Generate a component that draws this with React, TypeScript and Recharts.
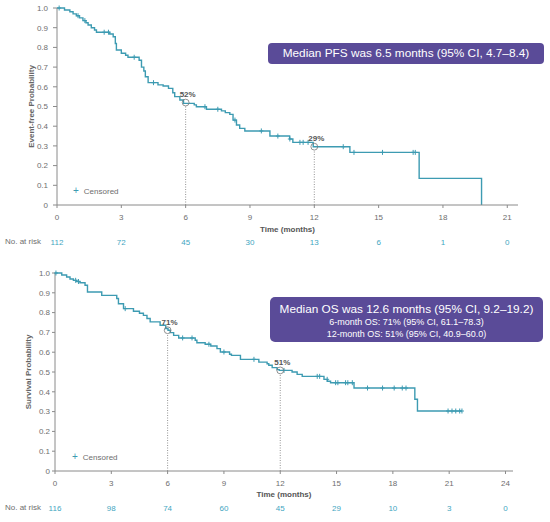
import { ComposedChart, Line, Scatter, XAxis, YAxis, ReferenceLine, ReferenceDot, Label } from 'recharts'

const FONT = '"Liberation Sans", Arial, sans-serif'
const TEAL = '#3d9bb2'
const RISK_TEAL = '#3fa6bf'
const PURPLE = '#5a4b98'
const GREY = '#8a8a8a'
const TEXT_GREY = '#6e6e6e'

const yTicks = [0, 0.1, 0.2, 0.3, 0.4, 0.5, 0.6, 0.7, 0.8, 0.9, 1.0]

// PFS curve (steps)
const pfsTimes = [0, 0.35, 0.6, 0.75, 0.9, 1.05, 1.21, 1.35, 1.45, 1.6, 1.75, 1.84, 2.46, 2.62, 2.72, 2.77, 3.0, 3.2, 3.31, 3.83, 3.94, 4.05, 4.12, 4.25, 4.71, 4.95, 5.2, 5.4, 5.49, 5.73, 5.9, 6.4, 6.5, 6.97, 7.67, 7.85, 8.06, 8.21, 8.37, 8.52, 8.76, 9.93, 10.85, 11.0, 11.95, 13.66, 16.89, 19.8]
const pfsSurv = [1.0, 0.99, 0.981, 0.97, 0.961, 0.95, 0.936, 0.925, 0.914, 0.9, 0.888, 0.877, 0.868, 0.854, 0.82, 0.787, 0.77, 0.76, 0.75, 0.735, 0.7, 0.68, 0.651, 0.621, 0.61, 0.604, 0.592, 0.57, 0.55, 0.533, 0.516, 0.508, 0.499, 0.486, 0.478, 0.469, 0.46, 0.431, 0.406, 0.389, 0.376, 0.35, 0.335, 0.318, 0.296, 0.267, 0.135, 0]
const pfsCensorTimes = [0.1, 0.98, 1.3, 2.2, 2.4, 3.6, 4.5, 6.9, 7.5, 8.3, 9.53, 10.3, 10.86, 11.33, 11.48, 11.71, 13.35, 13.85, 15.18, 16.61, 16.71]
const pfsTicks = [0, 3, 6, 9, 12, 15, 18, 21]
const pfsAtRisk = [112, 72, 45, 30, 13, 6, 1, 0]

// OS curve
const osTimes = [0, 0.36, 0.62, 0.8, 0.98, 1.15, 1.33, 1.6, 1.73, 2.49, 3.29, 3.38, 3.65, 4.18, 4.5, 4.71, 4.9, 5.07, 5.6, 5.9, 6.02, 6.14, 6.32, 6.59, 7.47, 7.56, 8.0, 8.3, 8.63, 8.81, 9.3, 9.4, 9.88, 10.86, 11.3, 11.39, 11.57, 11.83, 11.95, 12.63, 12.9, 13.17, 14.33, 14.51, 14.68, 15.93, 19.17, 19.31, 21.68]
const osSurv = [1.0, 0.99, 0.98, 0.97, 0.963, 0.957, 0.951, 0.938, 0.904, 0.887, 0.871, 0.845, 0.82, 0.807, 0.797, 0.786, 0.77, 0.753, 0.736, 0.72, 0.711, 0.699, 0.685, 0.672, 0.66, 0.648, 0.64, 0.631, 0.618, 0.601, 0.59, 0.584, 0.564, 0.55, 0.542, 0.534, 0.522, 0.512, 0.508, 0.5, 0.488, 0.478, 0.463, 0.453, 0.446, 0.419, 0.362, 0.303, 0.303]
const osCensorTimes = [0.05, 1.1, 1.25, 3.74, 6.8, 7.3, 8.2, 9.0, 10.6, 12.2, 13.97, 14.1, 14.5, 14.95, 15.07, 15.48, 15.6, 15.84, 16.65, 17.45, 18.07, 18.5, 18.7, 20.94, 21.15, 21.35, 21.56, 21.68]
const osTicks = [0, 3, 6, 9, 12, 15, 18, 21, 24]
const osAtRisk = [116, 98, 74, 60, 45, 29, 10, 3, 0]

const pfsMarks = [
  { t: 6, s: 0.52, label: '52%' },
  { t: 12, s: 0.296, label: '29%' },
]
const osMarks = [
  { t: 6, s: 0.711, label: '71%' },
  { t: 12, s: 0.508, label: '51%' },
]

function survAt(times: number[], surv: number[], t: number) {
  let v = surv[0]
  for (let i = 0; i < times.length; i++) {
    if (times[i] <= t) v = surv[i]
  }
  return v
}

const CensorMark = (props: any) => {
  const { cx, cy } = props
  if (cx == null || cy == null) return null
  return (
    <g stroke={TEAL} strokeWidth={1}>
      <line x1={cx - 2} x2={cx + 2} y1={cy} y2={cy} />
      <line x1={cx} x2={cx} y1={cy - 2.5} y2={cy + 2.5} />
    </g>
  )
}

interface PanelProps {
  top: number
  height: number
  times: number[]
  surv: number[]
  censors: number[]
  ticks: number[]
  atRisk: number[]
  xMax: number
  yLabel: string
  yLabelOffset: number
  yAxisWidth: number
  marginTop: number
  marginRight: number
  xHeight: number
  xTickMargin: number
  xLabelOffset: number
  riskHeight: number
  riskTickSize: number
  yTickSize: number
  yTickMargin: number
  marks: { t: number; s: number; label: string }[]
  riskY: number
  legend: { x: number; y: number }
}

function KMPanel(p: PanelProps) {
  const steps = p.times.map((t, i) => ({ t, s: p.surv[i] }))
  const censored = p.censors.map((t) => ({ t, s: survAt(p.times, p.surv, t) }))
  const riskLabel = (v: number, i: number) => {
    const k = p.ticks.indexOf(v)
    const n = k >= 0 ? p.atRisk[k] : p.atRisk[i]
    return n == null ? '' : String(n)
  }
  return (
    <div style={{ position: 'absolute', left: 0, top: p.top, width: 550, height: p.height }}>
      <ComposedChart
        width={550}
        height={p.height}
        margin={{ top: p.marginTop, right: p.marginRight, bottom: 2, left: 0 }}
      >
        <XAxis
          dataKey="t"
          type="number"
          domain={[0, p.xMax]}
          ticks={p.ticks}
          interval={0}
          height={p.xHeight}
          tickSize={3}
          tickMargin={p.xTickMargin}
          stroke={GREY}
          tick={{ fontSize: 8, fill: TEXT_GREY }}
        >
          <Label
            value="Time (months)"
            position="insideBottom"
            offset={p.xLabelOffset}
            style={{ fontSize: 8, fontWeight: 'bold', fill: '#555' }}
          />
        </XAxis>
        <XAxis
          xAxisId="risk"
          dataKey="t"
          type="number"
          domain={[0, p.xMax]}
          ticks={p.ticks}
          interval={0}
          height={p.riskHeight}
          axisLine={false}
          tickLine={false}
          tickSize={p.riskTickSize}
          tickMargin={1}
          tick={{ fontSize: 8, fill: RISK_TEAL }}
          tickFormatter={riskLabel}
        />
        <YAxis
          type="number"
          domain={[0, 1]}
          ticks={yTicks}
          interval={0}
          width={p.yAxisWidth}
          tickSize={p.yTickSize}
          tickMargin={p.yTickMargin}
          stroke={GREY}
          tick={{ fontSize: 8, fill: TEXT_GREY }}
          tickFormatter={(v: number) => (v === 0 ? '0' : v.toFixed(1))}
        >
          <Label
            value={p.yLabel}
            angle={-90}
            position="insideLeft"
            offset={p.yLabelOffset}
            style={{ fontSize: 8, fontWeight: 'bold', fill: '#666', textAnchor: 'middle' }}
          />
        </YAxis>
        {p.marks.map((m) => (
          <ReferenceLine
            key={'l' + m.t}
            segment={[
              { x: m.t, y: 0 },
              { x: m.t, y: m.s - 0.017 },
            ]}
            stroke="#777"
            strokeWidth={0.8}
            strokeDasharray="1 1.5"
          />
        ))}
        {/* invisible series that ties the at-risk axis to the time scale */}
        <Line
          xAxisId="risk"
          data={steps}
          dataKey="s"
          type="stepAfter"
          stroke="none"
          dot={false}
          activeDot={false}
          isAnimationActive={false}
        />
        <Line
          data={steps}
          dataKey="s"
          type="stepAfter"
          stroke={TEAL}
          strokeWidth={1.4}
          dot={false}
          activeDot={false}
          isAnimationActive={false}
        />
        <Scatter data={censored} dataKey="s" shape={CensorMark} isAnimationActive={false} />
        {p.marks.map((m) => (
          <ReferenceDot
            key={'d' + m.t}
            x={m.t}
            y={m.s}
            r={3.4}
            fill="none"
            stroke="#777"
            strokeWidth={0.8}
          >
            <Label
              value={m.label}
              position="top"
              offset={2}
              dx={2}
              style={{ fontSize: 8, fontWeight: 'bold', fill: '#555' }}
            />
          </ReferenceDot>
        ))}
      </ComposedChart>
      <div
        style={{
          position: 'absolute',
          left: 5,
          top: p.riskY - 5,
          fontSize: 8,
          lineHeight: '10px',
          color: TEXT_GREY,
        }}
      >
        No. at risk
      </div>
      <div
        style={{
          position: 'absolute',
          left: p.legend.x - 4,
          top: p.legend.y - 6,
          fontSize: 8,
          lineHeight: '12px',
          color: TEXT_GREY,
          whiteSpace: 'nowrap',
        }}
      >
        <span style={{ color: TEAL, fontSize: 10, marginRight: 5 }}>+</span>Censored
      </div>
    </div>
  )
}

export default function App() {
  return (
    <div
      style={{
        position: 'absolute',
        left: 0,
        top: 0,
        width: 550,
        height: 522,
        background: '#fff',
        fontFamily: FONT,
        overflow: 'hidden',
      }}
    >
      <KMPanel
        top={0}
        height={255}
        times={pfsTimes}
        surv={pfsSurv}
        censors={pfsCensorTimes}
        ticks={pfsTicks}
        atRisk={pfsAtRisk}
        xMax={21.5}
        yLabel="Event-free Probability"
        yLabelOffset={31}
        yAxisWidth={57}
        marginTop={8}
        marginRight={32}
        xHeight={28}
        xTickMargin={6}
        xLabelOffset={1}
        riskHeight={20}
        riskTickSize={5}
        yTickSize={4}
        yTickMargin={5}
        marks={pfsMarks}
        riskY={242}
        legend={{ x: 77, y: 191 }}
      />
      <KMPanel
        top={255}
        height={267}
        times={osTimes}
        surv={osSurv}
        censors={osCensorTimes}
        ticks={osTicks}
        atRisk={osAtRisk}
        xMax={24.4}
        yLabel="Survival Probability"
        yLabelOffset={28}
        yAxisWidth={55}
        marginTop={18}
        marginRight={37}
        xHeight={26}
        xTickMargin={6}
        xLabelOffset={0}
        riskHeight={23}
        riskTickSize={7}
        yTickSize={3}
        yTickMargin={2}
        marks={osMarks}
        riskY={252.7}
        legend={{ x: 76, y: 201.7 }}
      />
      <div
        style={{
          position: 'absolute',
          left: 268,
          top: 43,
          width: 276,
          height: 21,
          background: PURPLE,
          borderRadius: 4,
          color: '#fff',
          fontSize: 11.8,
          lineHeight: '21px',
          textAlign: 'center',
          whiteSpace: 'nowrap',
        }}
      >
        Median PFS was 6.5 months (95% CI, 4.7–8.4)
      </div>
      <div
        style={{
          position: 'absolute',
          left: 270,
          top: 297,
          width: 273,
          height: 45,
          boxSizing: 'border-box',
          paddingTop: 5.5,
          background: PURPLE,
          borderRadius: 5,
          color: '#fff',
          textAlign: 'center',
          whiteSpace: 'nowrap',
        }}
      >
        <div style={{ fontSize: 11.8, lineHeight: '13px' }}>Median OS was 12.6 months (95% CI, 9.2–19.2)</div>
        <div style={{ fontSize: 9, lineHeight: '12.5px' }}>6-month OS: 71% (95% CI, 61.1–78.3)</div>
        <div style={{ fontSize: 9, lineHeight: '12.5px' }}>12-month OS: 51% (95% CI, 40.9–60.0)</div>
      </div>
    </div>
  )
}
